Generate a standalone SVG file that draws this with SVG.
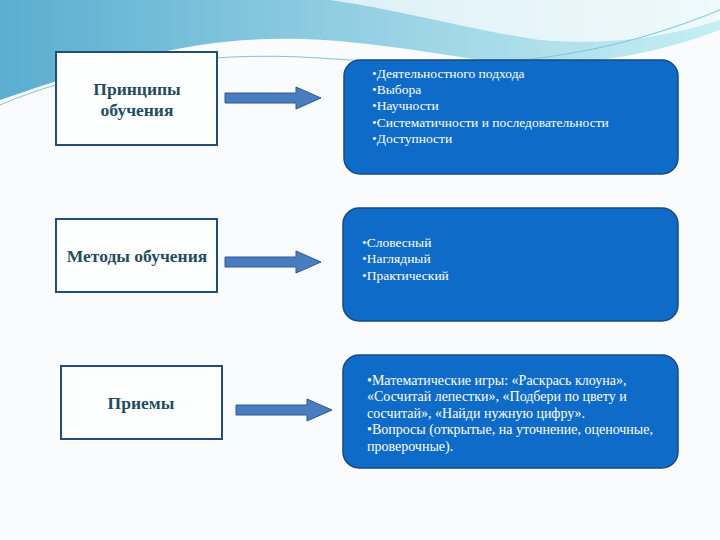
<svg xmlns="http://www.w3.org/2000/svg" width="720" height="540" viewBox="0 0 720 540">
<style>
.lbl{font-family:"Liberation Serif",serif;font-weight:bold;font-size:17.5px;fill:#1f4e5f;text-anchor:middle}
.lbox{fill:#fdfefe;stroke:#1f4e79;stroke-width:2}
.rbox{fill:#0f6bc8;stroke:#154b84;stroke-width:1.5}
.t{font-family:"Liberation Serif",serif;font-size:13.5px;fill:#fff}
.t2{font-family:"Liberation Serif",serif;font-size:14px;fill:#fff}
.arr{fill:#4a7cc0;stroke:#2f5b90;stroke-width:1}
</style>
<defs>
<linearGradient id="bg" x1="0" y1="0" x2="1" y2="0">
<stop offset="0" stop-color="#5aaed0"/><stop offset="0.6" stop-color="#9fd6e6"/><stop offset="1" stop-color="#c6eef4"/>
</linearGradient>
</defs>
<rect width="720" height="540" fill="#f9fbfc"/>
<path d="M0 0 H720 V30 C640 60 560 70 480 60 C380 45 300 30 200 45 C120 58 60 80 0 100 Z" fill="url(#bg)"/>
<path d="M330 0 H720 V20 C660 40 600 45 540 40 C470 30 400 10 330 0 Z" fill="#ffffff" opacity="0.7"/>
<path d="M0 105 C80 70 200 50 320 58 C440 66 560 75 720 10" fill="none" stroke="#7cc4dc" stroke-width="1"/>
<g id="n1"><rect class="lbox" x="56" y="52" width="161" height="93"/><text class="lbl" x="137" y="95">Принципы</text><text class="lbl" x="137" y="116">обучения</text></g>
<g id="n2"><rect class="lbox" x="56" y="219" width="161" height="73"/><text class="lbl" x="137" y="262">Методы обучения</text></g>
<g id="n3"><rect class="lbox" x="61" y="366" width="161" height="73"/><text class="lbl" x="141" y="409">Приемы</text></g>
<g id="r1"><rect class="rbox" x="344" y="60" width="334" height="114" rx="16"/>
<text class="t" x="372" y="78">•Деятельностного  подхода</text>
<text class="t" x="372" y="94">•Выбора</text>
<text class="t" x="372" y="110">•Научности</text>
<text class="t" x="372" y="127">•Систематичности  и последовательности</text>
<text class="t" x="372" y="143">•Доступности</text></g>
<g id="r2"><rect class="rbox" x="343" y="208" width="335" height="113" rx="16"/>
<text class="t" x="362" y="247">•Словесный</text>
<text class="t" x="362" y="263">•Наглядный</text>
<text class="t" x="362" y="280">•Практический</text></g>
<g id="r3"><rect class="rbox" x="343" y="355" width="335" height="113" rx="16"/>
<text class="t2" x="367" y="385">•Математические  игры: «Раскрась клоуна»,</text>
<text class="t2" x="367" y="401">«Сосчитай  лепестки», «Подбери по цвету и</text>
<text class="t2" x="367" y="418">сосчитай», «Найди  нужную цифру».</text>
<text class="t2" x="367" y="434">•Вопросы (открытые,  на уточнение,  оценочные,</text>
<text class="t2" x="367" y="451">проверочные).</text></g>
<g id="connectors">
<path class="arr" d="M225 93 H296 V87 L321 98 L296 109 V103 H225 Z"/>
<path class="arr" d="M225 257 H296 V251 L321 262 L296 273 V267 H225 Z"/>
<path class="arr" d="M236 405 H307 V399 L332 410 L307 421 V415 H236 Z"/>
</g>
</svg>
